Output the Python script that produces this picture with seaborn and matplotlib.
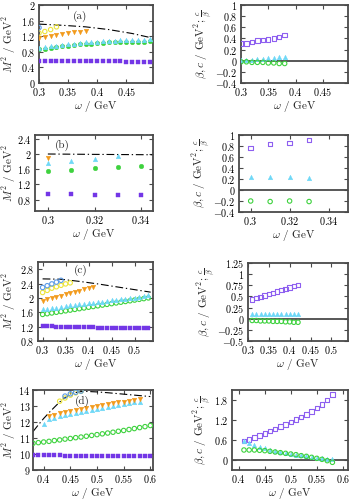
import numpy as np
import matplotlib
matplotlib.use('Agg')
import matplotlib.pyplot as plt
from matplotlib.ticker import FuncFormatter
import seaborn as sns

sns.set_style('ticks')
plt.rcParams['font.family'] = 'serif'
plt.rcParams['font.serif'] = ['cmr10', 'DejaVu Serif']
plt.rcParams['mathtext.fontset'] = 'cm'
plt.rcParams['axes.unicode_minus'] = True

PURPLE = '#7336e6'
PURPLE_OPEN = '#8e5ff0'
GREEN = '#3ed23e'
CYAN = '#6fd8f7'
ORANGE = '#f29b1d'
YELLOW = '#ece43a'
BLUE = '#5b9be8'

# ---- panel (a) ----
a_w = [0.30, 0.31, 0.32, 0.33, 0.34, 0.35, 0.36, 0.37, 0.38, 0.39,
       0.40, 0.41, 0.42, 0.43, 0.44, 0.45, 0.46, 0.47, 0.48, 0.49]
a_purple = [0.57, 0.57, 0.57, 0.57, 0.57, 0.57, 0.57, 0.57, 0.56, 0.56,
            0.56, 0.56, 0.56, 0.56, 0.56, 0.55, 0.55, 0.55, 0.55, 0.55]
a_green = [0.86, 0.88, 0.90, 0.92, 0.94, 0.96, 0.97, 0.99, 1.00, 1.01,
           1.02, 1.03, 1.04, 1.04, 1.05, 1.05, 1.06, 1.06, 1.06, 1.07]
a_cyan = [0.90, 0.92, 0.94, 0.96, 0.98, 1.00, 1.01, 1.03, 1.04, 1.05,
          1.06, 1.07, 1.08, 1.08, 1.09, 1.10, 1.10, 1.11, 1.11, 1.12]
a_w_orange = [0.30, 0.31, 0.32, 0.33, 0.34, 0.35, 0.36, 0.37, 0.38]
a_orange = [1.15, 1.18, 1.20, 1.23, 1.25, 1.28, 1.30, 1.32, 1.34]
a_w_yellow = [0.30, 0.31, 0.32, 0.33]
a_yellow = [1.28, 1.32, 1.37, 1.44]
a_w_blue = [0.30]
a_blue = [1.42]
a_w_line = [0.30, 0.34, 0.38, 0.42, 0.46, 0.49]
a_line = [1.51, 1.48, 1.44, 1.37, 1.27, 1.17]

a_w_r = [0.30, 0.31, 0.32, 0.33, 0.34, 0.35, 0.36, 0.37, 0.38]
a_beta = [0.31, 0.31, 0.34, 0.36, 0.37, 0.38, 0.40, 0.43, 0.46]
a_c = [0.01, 0.02, 0.02, 0.03, 0.03, 0.04, 0.04, 0.06, 0.07]
a_cb = [-0.02, -0.02, -0.03, -0.03, -0.03, -0.04, -0.04, -0.05, -0.05]

# ---- panel (b) ----
b_w = [0.30, 0.31, 0.32, 0.33, 0.34]
b_purple = [0.95, 0.94, 0.93, 0.92, 0.91]
b_green = [1.55, 1.59, 1.62, 1.65, 1.68]
b_w_cyan = [0.30, 0.31, 0.32, 0.33]
b_cyan = [1.75, 1.82, 1.88, 1.94]
b_w_orange = [0.30]
b_orange = [1.89]
b_w_line = [0.30, 0.32, 0.345]
b_line = [2.00, 1.99, 1.98]

b_w_r = [0.30, 0.31, 0.32, 0.33]
b_beta = [0.76, 0.84, 0.86, 0.91]
b_c = [0.24, 0.24, 0.23, 0.22]
b_cb = [-0.20, -0.21, -0.20, -0.21]

# ---- panel (c) ----
c_w = [0.30, 0.31, 0.32, 0.33, 0.34, 0.35, 0.36, 0.37, 0.38, 0.39, 0.40, 0.41,
       0.42, 0.43, 0.44, 0.45, 0.46, 0.47, 0.48, 0.49, 0.50, 0.51, 0.52, 0.53]
c_purple = [1.22, 1.21, 1.21, 1.20, 1.20, 1.19, 1.19, 1.19, 1.18, 1.18, 1.18, 1.18,
            1.17, 1.17, 1.17, 1.17, 1.17, 1.17, 1.17, 1.17, 1.17, 1.17, 1.17, 1.17]
c_green = [1.54, 1.56, 1.58, 1.60, 1.62, 1.64, 1.66, 1.68, 1.70, 1.72, 1.74, 1.76,
           1.78, 1.80, 1.82, 1.84, 1.86, 1.88, 1.90, 1.92, 1.94, 1.96, 1.98, 2.00]
c_cyan = [1.68, 1.70, 1.72, 1.73, 1.75, 1.77, 1.79, 1.80, 1.82, 1.84, 1.85, 1.87,
          1.88, 1.90, 1.92, 1.93, 1.95, 1.96, 1.98, 2.00, 2.01, 2.03, 2.05, 2.07]
c_w_orange = [0.30, 0.31, 0.32, 0.33, 0.34, 0.35, 0.36, 0.37, 0.38, 0.39, 0.40, 0.41]
c_orange = [1.92, 1.96, 1.99, 2.03, 2.06, 2.10, 2.13, 2.17, 2.20, 2.24, 2.27, 2.31]
c_w_yellow = [0.30, 0.31, 0.32, 0.33, 0.34, 0.35, 0.36]
c_yellow = [2.15, 2.21, 2.27, 2.31, 2.35, 2.39, 2.42]
c_w_blue = [0.30, 0.31, 0.32, 0.33, 0.34]
c_blue = [2.29, 2.34, 2.39, 2.44, 2.49]
c_w_line = [0.30, 0.34, 0.38, 0.42, 0.46, 0.50, 0.535]
c_line = [2.53, 2.52, 2.46, 2.39, 2.31, 2.23, 2.16]

c_w_r = [0.31, 0.32, 0.33, 0.34, 0.35, 0.36, 0.37, 0.38, 0.39, 0.40, 0.41, 0.42]
c_beta = [0.43, 0.46, 0.49, 0.52, 0.55, 0.58, 0.61, 0.64, 0.67, 0.70, 0.73, 0.76]
c_c = [0.11, 0.11, 0.11, 0.10, 0.10, 0.10, 0.10, 0.10, 0.10, 0.10, 0.10, 0.10]
c_cb = [-0.04, -0.04, -0.05, -0.05, -0.05, -0.06, -0.06, -0.06, -0.07, -0.07, -0.08, -0.08]

# ---- panel (d) ----
d_w = [0.38, 0.39, 0.40, 0.41, 0.42, 0.43, 0.44, 0.45, 0.46, 0.47, 0.48, 0.49,
       0.50, 0.51, 0.52, 0.53, 0.54, 0.55, 0.56, 0.57, 0.58, 0.59, 0.60]
d_purple = [9.94, 9.93, 9.92, 9.92, 9.91, 9.91, 9.90, 9.90, 9.89, 9.89, 9.88, 9.88,
            9.88, 9.87, 9.87, 9.87, 9.86, 9.86, 9.86, 9.86, 9.85, 9.85, 9.85]
d_green = [10.67, 10.71, 10.75, 10.79, 10.84, 10.88, 10.93, 10.97, 11.02, 11.06, 11.11, 11.16,
           11.21, 11.26, 11.31, 11.36, 11.42, 11.47, 11.53, 11.59, 11.65, 11.71, 11.78]
d_w_cyan = [0.40, 0.41, 0.42, 0.43, 0.44, 0.45, 0.46, 0.47, 0.48, 0.49,
            0.50, 0.51, 0.52, 0.53, 0.54, 0.55, 0.56, 0.57, 0.58]
d_cyan = [11.88, 12.18, 12.28, 12.38, 12.46, 12.53, 12.59, 12.65, 12.71, 12.77,
          12.82, 12.88, 12.93, 12.99, 13.04, 13.10, 13.16, 13.22, 13.28]
d_w_orange = [0.41, 0.42, 0.43, 0.44, 0.45, 0.46, 0.47, 0.48, 0.49,
              0.50, 0.51, 0.52, 0.53, 0.54, 0.55, 0.56, 0.57, 0.58]
d_orange = [12.35, 12.45, 12.54, 12.62, 12.69, 12.76, 12.82, 12.88, 12.94,
            13.00, 13.05, 13.11, 13.16, 13.22, 13.27, 13.33, 13.38, 13.44]
d_w_yellow = [0.43, 0.44, 0.45, 0.46, 0.47]
d_yellow = [13.30, 13.50, 13.68, 13.82, 13.92]
d_w_blue = [0.44, 0.45, 0.46, 0.47]
d_blue = [13.62, 13.76, 13.86, 13.93]
d_w_line = [0.38, 0.39, 0.40, 0.41, 0.42, 0.43, 0.44, 0.45, 0.46, 0.47, 0.48,
            0.50, 0.52, 0.54, 0.56, 0.58, 0.60]
d_line = [11.40, 11.82, 12.22, 12.58, 12.92, 13.25, 13.52, 13.72, 13.84, 13.90, 13.91,
          13.88, 13.83, 13.77, 13.71, 13.65, 13.59]

d_w_r = [0.41, 0.42, 0.43, 0.44, 0.45, 0.46, 0.47, 0.48, 0.49,
         0.50, 0.51, 0.52, 0.53, 0.54, 0.55, 0.56, 0.57, 0.58]
d_beta = [0.57, 0.62, 0.68, 0.74, 0.80, 0.87, 0.93, 1.00, 1.07,
          1.14, 1.21, 1.29, 1.37, 1.46, 1.56, 1.67, 1.80, 1.96]
d_c = [0.58, 0.50, 0.44, 0.40, 0.36, 0.31, 0.27, 0.24, 0.21,
       0.18, 0.16, 0.14, 0.12, 0.09, 0.07, 0.05, 0.04, 0.04]
d_cb = [0.30, 0.30, 0.30, 0.29, 0.28, 0.26, 0.24, 0.22, 0.20,
        0.18, 0.16, 0.13, 0.11, 0.08, 0.05, 0.02, -0.02, -0.07]

FRAME = '#4a4a4a'
DASHDOT = (0, (7, 2.5, 1.2, 2.5))
TICK_FS = 7.3
LAB_FS = 8.0

W, H = 353, 500
fig = plt.figure(figsize=(W / 100, H / 100), dpi=100)


def box(x0, x1, y0, y1):
    ax = fig.add_axes([x0 / W, 1 - y1 / H, (x1 - x0) / W, (y1 - y0) / H])
    ax.px = (x0, x1)
    return ax


def pts(ax, x, y, marker, color, filled=True, s=11, lw=0.8):
    if filled:
        sns.scatterplot(x=x, y=y, ax=ax, marker=marker, s=s, color=color,
                        edgecolor=color, linewidth=0.3, zorder=3)
    else:
        sns.scatterplot(x=x, y=y, ax=ax, marker=marker, s=s - 1, facecolors='none',
                        edgecolor=color, linewidth=lw, zorder=3)


def style(ax, xlim, ylim, xticks, yticks, ylabel, label_px=None):
    ax.set_xlim(*xlim)
    ax.set_ylim(*ylim)
    ax.set_xticks(xticks)
    ax.set_yticks(yticks)
    fmt = FuncFormatter(lambda v, p: f'${v:g}$')
    ax.xaxis.set_major_formatter(fmt)
    ax.yaxis.set_major_formatter(fmt)
    ax.tick_params(direction='in', top=True, right=True, length=3, width=0.8,
                   colors=FRAME, labelcolor='black', labelsize=TICK_FS, pad=2.5)
    for sp in ax.spines.values():
        sp.set_color(FRAME)
        sp.set_linewidth(1.3)
    ax.set_xlabel(r'$\omega$ / GeV', fontsize=LAB_FS, labelpad=0.5)
    ax.set_ylabel(ylabel, fontsize=LAB_FS, labelpad=0.5)
    if label_px is not None:
        x0, x1 = ax.px
        ax.yaxis.set_label_coords((label_px - x0) / (x1 - x0), 0.5)


ML = r'$M^2$ / GeV$^2$'
MR = r'$\beta, c$ / GeV$^2$; $\frac{c}{\beta}$'

# (a)
ax = box(39, 153, 5, 83)
sns.lineplot(x=a_w_line, y=a_line, ax=ax, color='black', lw=0.8, linestyle=DASHDOT)
pts(ax, a_w, a_purple, 's', PURPLE)
pts(ax, a_w, a_green, 'o', GREEN)
pts(ax, a_w, a_cyan, '^', CYAN)
pts(ax, a_w_orange, a_orange, 'v', ORANGE)
pts(ax, a_w_yellow, a_yellow, 'o', YELLOW, filled=False)
pts(ax, a_w_blue, a_blue, 'o', BLUE, filled=False)
style(ax, (0.3, 0.496), (0, 2), [0.3, 0.35, 0.4, 0.45], [0, 0.4, 0.8, 1.2, 1.6, 2], ML, 18)
ax.text(0.36, 0.86, '(a)', transform=ax.transAxes, ha='center', va='center', fontsize=LAB_FS)

ax = box(241, 348, 5, 83)
ax.axhline(0, color=FRAME, lw=1.3, zorder=2)
pts(ax, a_w_r, a_beta, 's', PURPLE_OPEN, filled=False)
pts(ax, a_w_r, a_c, '^', CYAN)
pts(ax, a_w_r, a_cb, 'o', GREEN, filled=False)
style(ax, (0.3, 0.496), (-0.4, 1), [0.3, 0.35, 0.4, 0.45],
      [-0.4, -0.2, 0, 0.2, 0.4, 0.6, 0.8, 1], MR)

# (b)
ax = box(35, 153, 135, 211)
sns.lineplot(x=b_w_line, y=b_line, ax=ax, color='black', lw=0.8, linestyle=DASHDOT)
pts(ax, b_w, b_purple, 's', PURPLE)
pts(ax, b_w, b_green, 'o', GREEN)
pts(ax, b_w_cyan, b_cyan, '^', CYAN)
pts(ax, b_w_orange, b_orange, 'v', ORANGE)
style(ax, (0.2945, 0.345), (0.5, 2.5), [0.3, 0.32, 0.34], [0.8, 1.2, 1.6, 2, 2.4], ML, 18)
ax.text(0.23, 0.86, '(b)', transform=ax.transAxes, ha='center', va='center', fontsize=LAB_FS)

ax = box(239, 348, 135, 212)
ax.axhline(0, color=FRAME, lw=1.3, zorder=2)
pts(ax, b_w_r, b_beta, 's', PURPLE_OPEN, filled=False)
pts(ax, b_w_r, b_c, '^', CYAN)
pts(ax, b_w_r, b_cb, 'o', GREEN, filled=False)
style(ax, (0.294, 0.35), (-0.4, 1), [0.3, 0.32, 0.34],
      [-0.4, -0.2, 0, 0.2, 0.4, 0.6, 0.8, 1], MR)

# (c)
ax = box(38, 153, 262, 341)
sns.lineplot(x=c_w_line, y=c_line, ax=ax, color='black', lw=0.8, linestyle=DASHDOT)
pts(ax, c_w, c_purple, 's', PURPLE)
pts(ax, c_w, c_green, 'o', GREEN, filled=False)
pts(ax, c_w, c_cyan, '^', CYAN)
pts(ax, c_w_orange, c_orange, 'v', ORANGE)
pts(ax, c_w_yellow, c_yellow, 'o', YELLOW, filled=False)
pts(ax, c_w_blue, c_blue, 'o', BLUE, filled=False)
style(ax, (0.29, 0.54), (0.8, 3.0), [0.3, 0.35, 0.4, 0.45, 0.5],
      [0.8, 1.2, 1.6, 2, 2.4, 2.8], ML, 18)
ax.text(0.37, 0.89, '(c)', transform=ax.transAxes, ha='center', va='center', fontsize=LAB_FS)

ax = box(248, 348, 263, 341)
ax.axhline(0, color=FRAME, lw=1.3, zorder=2)
pts(ax, c_w_r, c_beta, 's', PURPLE_OPEN, filled=False)
pts(ax, c_w_r, c_c, '^', CYAN)
pts(ax, c_w_r, c_cb, 'o', GREEN, filled=False)
style(ax, (0.3, 0.54), (-0.5, 1.25), [0.3, 0.35, 0.4, 0.45, 0.5],
      [-0.5, -0.25, 0, 0.25, 0.5, 0.75, 1, 1.25], MR)

# (d)
ax = box(33, 153, 390, 470)
sns.lineplot(x=d_w_line, y=d_line, ax=ax, color='black', lw=0.8, linestyle=DASHDOT)
pts(ax, d_w, d_purple, 's', PURPLE)
pts(ax, d_w, d_green, 'o', GREEN, filled=False)
pts(ax, d_w_cyan, d_cyan, '^', CYAN)
pts(ax, d_w_orange, d_orange, 'v', ORANGE)
pts(ax, d_w_yellow, d_yellow, 'o', YELLOW, filled=False)
pts(ax, d_w_blue, d_blue, 'o', BLUE, filled=False)
style(ax, (0.38, 0.605), (9, 14), [0.4, 0.45, 0.5, 0.55, 0.6],
      [9, 10, 11, 12, 13, 14], ML, 18)
ax.tick_params(axis='y', pad=2)
ax.text(0.41, 0.86, '(d)', transform=ax.transAxes, ha='center', va='center', fontsize=LAB_FS)

ax = box(232, 348, 390, 470)
ax.axhline(0, color=FRAME, lw=1.3, zorder=2)
pts(ax, d_w_r, d_beta, 's', PURPLE_OPEN, filled=False)
pts(ax, d_w_r, d_c, '^', CYAN)
pts(ax, d_w_r, d_cb, 'o', GREEN, filled=False)
style(ax, (0.387, 0.61), (-0.3, 2.1), [0.4, 0.45, 0.5, 0.55, 0.6],
      [0, 0.6, 1.2, 1.8], MR)

fig.savefig('out.png', dpi=100)
